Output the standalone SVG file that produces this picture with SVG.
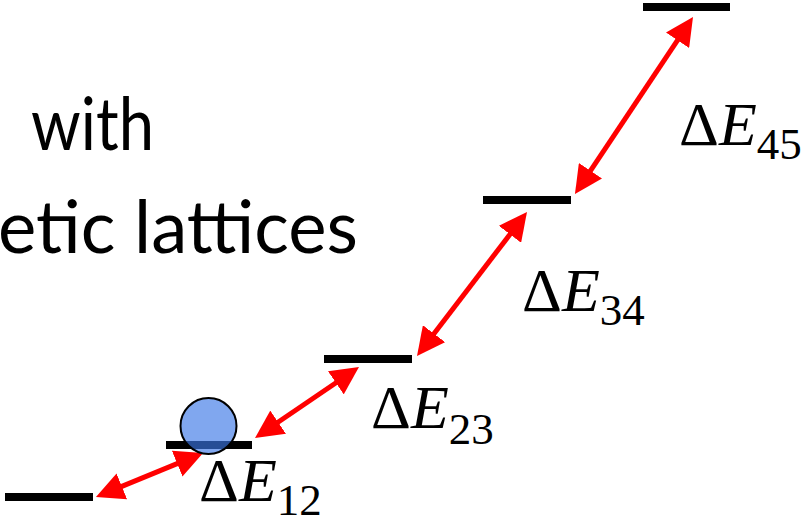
<svg xmlns="http://www.w3.org/2000/svg" width="807" height="516" viewBox="0 0 807 516">
  <style>
    .bar { stroke: #000; stroke-width: 8; fill: none; }
    .arr { stroke: #ff0000; stroke-width: 5; fill: none; marker-start: url(#head); marker-end: url(#head); }
    .title { font-family: Lato, "Open Sans", sans-serif; font-size: 74px; fill: #000; }
    .lbl { font-family: "Liberation Serif", "DejaVu Serif", serif; font-size: 62px; fill: #000; }
    .sub { font-size: 45px; }
  </style>
  <defs>
    <marker id="head" markerUnits="userSpaceOnUse" viewBox="0 0 28 28" markerWidth="28" markerHeight="28" refX="2" refY="14" orient="auto-start-reverse">
      <path d="M0,0 L28,14 L0,28 z" fill="#ff0000"/>
    </marker>
  </defs>
  <rect width="807" height="516" fill="#ffffff"/>

  <g id="title">
    <text class="title" x="31" y="150" textLength="123" lengthAdjust="spacingAndGlyphs">with</text>
    <text class="title" x="-2" y="253" textLength="360" lengthAdjust="spacingAndGlyphs">etic lattices</text>
  </g>

  <g id="level1"><line class="bar" x1="5" y1="497" x2="93" y2="497"/></g>
  <g id="level2"><line class="bar" x1="166" y1="445" x2="252" y2="445"/></g>
  <g id="level3"><line class="bar" x1="324" y1="359" x2="412" y2="359"/></g>
  <g id="level4"><line class="bar" x1="483" y1="200" x2="571" y2="200"/></g>
  <g id="level5"><line class="bar" x1="643" y1="7" x2="730" y2="7"/></g>

  <g id="connectors">
    <line class="arr" x1="120.0" y1="487.1" x2="179.0" y2="462.9"/>
    <line class="arr" x1="276.5" y1="423.3" x2="337.5" y2="381.7"/>
    <line class="arr" x1="432.8" y1="335.3" x2="511.2" y2="232.7"/>
    <line class="arr" x1="589.4" y1="172.4" x2="678.6" y2="38.6"/>
  </g>

  <g id="labels">
    <text class="lbl" x="199" y="501">Δ<tspan font-style="italic">E</tspan><tspan class="sub" dy="14">12</tspan></text>
    <text class="lbl" x="371" y="428">Δ<tspan font-style="italic">E</tspan><tspan class="sub" dy="16">23</tspan></text>
    <text class="lbl" x="522" y="311">Δ<tspan font-style="italic">E</tspan><tspan class="sub" dy="14">34</tspan></text>
    <text class="lbl" x="679" y="145">Δ<tspan font-style="italic">E</tspan><tspan class="sub" dy="14">45</tspan></text>
  </g>

  <g id="particle">
    <circle cx="208.5" cy="426" r="28" fill="#3c78e6" fill-opacity="0.65" stroke="#000" stroke-width="2"/>
  </g>
</svg>
